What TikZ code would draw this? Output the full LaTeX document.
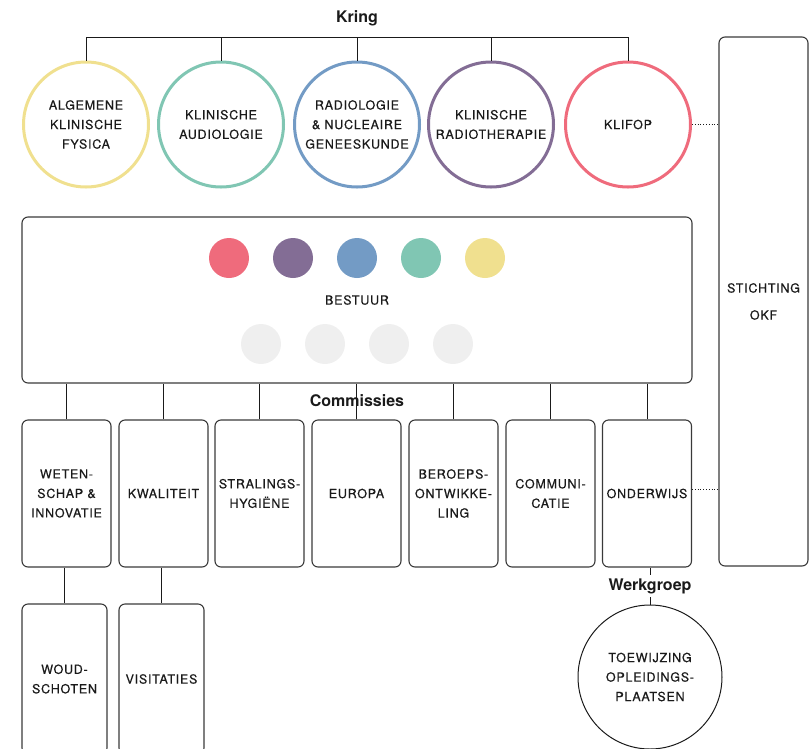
\documentclass[tikz,border=0pt]{standalone}
\usepackage{fontspec}
\setmainfont{TeX Gyre Heros}
\newfontfamily\capsfont[LetterSpace=6,FakeBold=0.5]{TeX Gyre Heros}
\definecolor{kred}{HTML}{EF6B7C}
\definecolor{kpurple}{HTML}{836D95}
\definecolor{kblue}{HTML}{739BC5}
\definecolor{kgreen}{HTML}{80C6B3}
\definecolor{kyellow}{HTML}{F0E08F}
\definecolor{kgray}{HTML}{EFEFEF}
\definecolor{ink}{HTML}{1A1A1A}
\definecolor{boxline}{HTML}{3A3A3A}
\tikzset{
  capstext/.style={font=\capsfont\fontsize{12.5}{19.5}\selectfont, text=ink, align=center},
  ring/.style={circle, draw, line width=3, minimum size=125, inner sep=0, capstext},
  combox/.style={rectangle, draw=boxline, line width=1.1, rounded corners=6, minimum width=89, minimum height=147, inner sep=0, capstext},
  subbox/.style={combox, minimum width=85, minimum height=150},
  dot/.style={circle, minimum size=40, inner sep=0},
  heading/.style={font=\bfseries\fontsize{16}{19}\selectfont, text=ink, inner sep=1},
  conn/.style={draw=ink, line width=1},
}
\begin{document}
\begin{tikzpicture}[x=1pt, y=-1pt]
\useasboundingbox (0,0) rectangle (812,748);
\begin{scope}
\clip (0,0) rectangle (812,748);

% Kring
\node[heading] (kring) at (357,18) {Kring};
\node[ring, draw=kyellow] (k1) at (86,124.5) {ALGEMENE\\KLINISCHE\\FYSICA};
\node[ring, draw=kgreen] (k2) at (221,124.5) {KLINISCHE\\AUDIOLOGIE};
\node[ring, draw=kblue] (k3) at (357,124.5) {RADIOLOGIE\\\&~NUCLEAIRE\\GENEESKUNDE};
\node[ring, draw=kpurple] (k4) at (491,124.5) {KLINISCHE\\RADIOTHERAPIE};
\node[ring, draw=kred] (k5) at (628,124.5) {KLIFOP};
\coordinate (bus) at (357,37);
\draw[conn] (k1.north) |- (k5.north |- bus) -- (k5.north);
\draw[conn] (k2.north) -- (k2.north |- bus);
\draw[conn] (k3.north) -- (k3.north |- bus);
\draw[conn] (k4.north) -- (k4.north |- bus);

% Stichting OKF
\node[rectangle, draw=boxline, line width=1.1, rounded corners=6, minimum width=89, minimum height=529, inner sep=0, capstext] (okf) at (763.5,301.5) {STICHTING\\[7.5pt]OKF};
\draw[conn, line width=0.8, dotted] (k5.east) -- (okf.west |- k5.east);

% Bestuur
\node[rectangle, draw=boxline, line width=1.1, rounded corners=6, minimum width=670, minimum height=166, inner sep=0, capstext] (best) at (357,300) {BESTUUR};
\node[dot, fill=kred] (d1) at (229,258) {};
\node[dot, fill=kpurple] (d2) at (293,258) {};
\node[dot, fill=kblue] (d3) at (357,258) {};
\node[dot, fill=kgreen] (d4) at (421,258) {};
\node[dot, fill=kyellow] (d5) at (485,258) {};
\node[dot, fill=kgray] (g1) at (261,344) {};
\node[dot, fill=kgray] (g2) at (325,344) {};
\node[dot, fill=kgray] (g3) at (389,344) {};
\node[dot, fill=kgray] (g4) at (453,344) {};

% Commissies
\node[combox] (c1) at (66.5,493.5) {WETEN-\\SCHAP \&\\INNOVATIE};
\node[combox] (c2) at (163.5,493.5) {KWALITEIT};
\node[combox] (c3) at (259.5,493.5) {STRALINGS-\\HYGI\"ENE};
\node[combox] (c4) at (356.5,493.5) {EUROPA};
\node[combox] (c5) at (453.5,493.5) {BEROEPS-\\ONTWIKKE-\\LING};
\node[combox] (c6) at (550.5,493.5) {COMMUNI-\\CATIE};
\node[combox] (c7) at (647,493.5) {ONDERWIJS};
\foreach \c in {c1,c2,c3,c4,c5,c6,c7}{
  \draw[conn] (\c.north) -- (\c.north |- best.south);
}
\node[heading] (comm) at (357,401) {Commissies};
\coordinate (c7dot) at ([yshift=4pt]c7.east);
\draw[conn, line width=0.8, dotted] (c7dot) -- (okf.west |- c7dot);

% Sub-boxes
\node[subbox] (w1) at (64.5,679) {WOUD-\\SCHOTEN};
\node[subbox] (w2) at (161.5,679) {VISITATIES};
\draw[conn] (w1.north) -- (w1.north |- c1.south);
\draw[conn] (w2.north) -- (w2.north |- c2.south);

% Werkgroep
\node[circle, draw=ink, line width=1, minimum size=144, inner sep=0, capstext] (tw) at (650,677) {TOEWIJZING\\OPLEIDINGS-\\PLAATSEN};
\draw[conn] (tw.north) -- (tw.north |- c7.south);
\node[heading, fill=white, inner sep=3] (wg) at (650,586) {Werkgroep};
\end{scope}
\end{tikzpicture}
\end{document}
